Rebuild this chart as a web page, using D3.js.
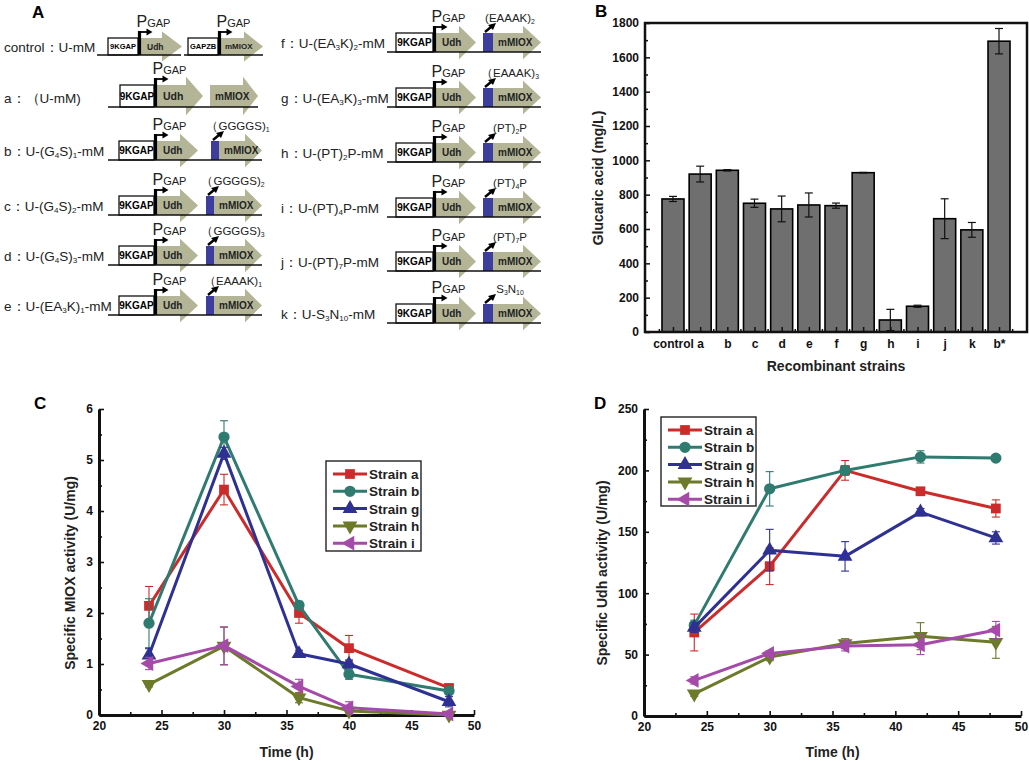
<!DOCTYPE html>
<html>
<head>
<meta charset="utf-8">
<script src="https://d3js.org/d3.v7.min.js"></script>
<style>
  body { margin: 0; background: #fff; }
  svg { font-family: "Liberation Sans", Arial, sans-serif; }
  .tick text { font-weight: bold; font-size: 12px; fill: #111; }
  .axis path, .axis line { stroke: #111; }
</style>
</head>
<body>
<svg id="fig" width="1029" height="761"></svg>
<script>
// ---------- data ----------
// panel A: construct names (_{..} = subscript)
const leftLabels = ['control\uFF1AU-mM', 'a\uFF1A\uFF08U-mM)', 'b\uFF1AU-(G_{4}S)_{1}-mM',
  'c\uFF1AU-(G_{4}S)_{2}-mM', 'd\uFF1AU-(G_{4}S)_{3}-mM', 'e\uFF1AU-(EA_{3}K)_{1}-mM'];
const rightLabels = ['f\uFF1AU-(EA_{3}K)_{2}-mM', 'g\uFF1AU-(EA_{3}K)_{3}-mM', 'h\uFF1AU-(PT)_{2}P-mM',
  'i\uFF1AU-(PT)_{4}P-mM', 'j\uFF1AU-(PT)_{7}P-mM', 'k\uFF1AU-S_{3}N_{10}-mM'];
const leftLinkers = [null, null, '\uFF08GGGGS)_{1}', '\uFF08GGGGS)_{2}', '\uFF08GGGGS)_{3}', '\uFF08EAAAK)_{1}'];
const rightLinkers = ['(EAAAK)_{2}', '\uFF08EAAAK)_{3}', '(PT)_{2}P', '(PT)_{4}P', '(PT)_{7}P', 'S_{3}N_{10}'];

// panel B
const strains = ['control', 'a', 'b', 'c', 'd', 'e', 'f', 'g', 'h', 'i', 'j', 'k', 'b*'];
const glucaric = [775, 920, 942, 750, 717, 740, 736, 928, 70, 150, 660, 595, 1694];
const glucaricErr = [15, 46, 4, 24, 75, 70, 15, 2, 62, 6, 116, 43, 74];

// panel C (MIOX activity)
const timeC = [24, 30, 36, 40, 48];
const mioxA = [2.14, 4.42, 2.0, 1.31, 0.53];
const mioxAErr = [0.38, 0.3, 0.2, 0.25, 0.05];
const mioxB = [1.8, 5.45, 2.15, 0.8, 0.47];
const mioxBErr = [0.48, 0.32, 0.08, 0.1, 0.05];
const mioxG = [1.17, 5.13, 1.2, 1.0, 0.26];
const mioxGErr = [0.13, 0.12, 0.07, 0.08, 0.1];
const mioxH = [0.6, 1.35, 0.34, 0.08, 0.0];
const mioxHErr = [0.05, 0.37, 0.1, 0.03, 0.02];
const mioxI = [1.01, 1.36, 0.56, 0.14, 0.02];
const mioxIErr = [0.12, 0.37, 0.14, 0.12, 0.03];

// panel D (Udh activity)
const timeD = [24, 30, 36, 42, 48];
const udhA = [68, 122, 200, 183, 169];
const udhAErr = [15, 15, 8, 2, 7];
const udhB = [74, 185, 200, 211, 210];
const udhBErr = [4, 14, 4, 5, 2];
const udhG = [72, 135, 130, 166, 145];
const udhGErr = [4, 17, 12, 3, 5];
const udhH = [18, 48, 59, 65, 60];
const udhHErr = [2, 3, 4, 11, 13];
const udhI = [29, 51, 57, 58, 70];
const udhIErr = [3, 2, 4, 8, 7];

const seriesNames = ['Strain a', 'Strain b', 'Strain g', 'Strain h', 'Strain i'];
const seriesColors = ['#cc2b2b', '#2f7b70', '#2e3192', '#6d7a2a', '#a64aa9'];

// ---------- helpers ----------
const svg = d3.select('#fig');
svg.append('rect').attr('width', 1029).attr('height', 761).attr('fill', '#fff');
const fmt = d3.format('d');

function rich(sel, str, size) {
  const parts = str.split(/(_\{[^}]*\})/).filter(s => s.length);
  let shift = 0;
  parts.forEach(p => {
    const isSub = p.startsWith('_{');
    const t = sel.append('tspan').text(isSub ? p.slice(2, -1) : p);
    const want = isSub ? size * 0.16 : 0;
    if (want !== shift) t.attr('dy', want - shift);
    t.attr('font-size', isSub ? size * 0.6 : size);
    shift = want;
  });
  return sel;
}

function panelLetter(x, y, s) {
  svg.append('text').attr('x', x).attr('y', y).attr('font-size', 17)
    .attr('font-weight', 'bold').text(s);
}

// ---------- panel A ----------
const gA = svg.append('g');
const geneFill = '#b4b596';
const linkerFill = '#3d3d9e';

function geneArrow(x0, bodyEnd, tip, y, bh, label, fs) {
  const top = y - bh, mid = y - bh / 2, hh = bh * 0.88;
  gA.append('path')
    .attr('d', `M${x0},${top}L${bodyEnd},${top}L${bodyEnd},${mid - hh}L${tip},${mid}` +
      `L${bodyEnd},${mid + hh}L${bodyEnd},${y}L${x0},${y}Z`)
    .attr('fill', geneFill);
  gA.append('text').attr('x', x0 + (label === 'Udh' ? 7 : 5)).attr('y', mid + fs * 0.36)
    .attr('font-size', fs).attr('font-weight', 'bold').attr('fill', '#222').text(label);
}

function promoterBox(x0, x1, y, bh, label, fs) {
  gA.append('rect').attr('x', x0).attr('y', y - bh).attr('width', x1 - x0).attr('height', bh)
    .attr('fill', '#fff').attr('stroke', '#111').attr('stroke-width', 1.3);
  gA.append('text').attr('x', (x0 + x1) / 2).attr('y', y - bh / 2 + fs * 0.36)
    .attr('text-anchor', 'middle').attr('font-size', fs).attr('font-weight', 'bold').text(label);
  // promoter bent arrow
  const px = x1 + 1.5, h = bh + 7;
  gA.append('line').attr('x1', px).attr('x2', px).attr('y1', y).attr('y2', y - h)
    .attr('stroke', '#000').attr('stroke-width', 3.2);
  gA.append('line').attr('x1', px).attr('x2', px + 8).attr('y1', y - h + 1).attr('y2', y - h + 1)
    .attr('stroke', '#000').attr('stroke-width', 1.8);
  gA.append('path').attr('d', `M${px + 7},${y - h - 2.5}L${px + 13},${y - h + 1}L${px + 7},${y - h + 4.5}Z`)
    .attr('fill', '#000');
  const t = gA.append('text').attr('x', px - 3).attr('y', y - bh - 11).attr('fill', '#222');
  t.append('tspan').attr('font-size', 16).text('P');
  t.append('tspan').attr('font-size', 11).text('GAP');
}

function linker(x0, x1, y, bh, label, cx) {
  gA.append('rect').attr('x', x0).attr('y', y - bh).attr('width', x1 - x0).attr('height', bh)
    .attr('fill', linkerFill);
  gA.append('line').attr('x1', x0 + 2).attr('y1', y - bh - 1).attr('x2', x0 + 8).attr('y2', y - bh - 6)
    .attr('stroke', '#000').attr('stroke-width', 2.4);
  gA.append('path').attr('d', `M${x0 + 13},${y - bh - 10}L${x0 + 5},${y - bh - 8}L${x0 + 10},${y - bh - 3}Z`)
    .attr('fill', '#000');
  rich(gA.append('text').attr('x', cx).attr('y', y - bh - 11).attr('text-anchor', 'middle')
    .attr('fill', '#222'), label, 11.5);
}

function baseLine(x0, x1, y) {
  gA.append('line').attr('x1', x0).attr('x2', x1).attr('y1', y).attr('y2', y)
    .attr('stroke', '#111').attr('stroke-width', 1.5);
}

function rowLabel(x, y, str) {
  rich(gA.append('text').attr('x', x).attr('y', y).attr('fill', '#222'), str, 13.5);
}

const leftY = [55, 107, 160, 215, 265, 315];
const rightY = [52, 107, 162, 217, 271, 323];

// control row
{
  const y = leftY[0];
  rowLabel(4, y - 3, leftLabels[0]);
  geneArrow(140, 162, 182, y, 17, 'Udh', 8.5);
  promoterBox(108, 138, y, 17, '9KGAP', 7.5);
  geneArrow(220, 244, 263, y, 17, 'mMIOX', 8);
  promoterBox(188, 218, y, 17, 'GAPZB', 7.5);
  baseLine(97, 181, y);
  baseLine(184, 263, y);
}
// row a
{
  const y = leftY[1];
  rowLabel(4, y - 4, leftLabels[1]);
  geneArrow(156, 186, 203, y, 22, 'Udh', 10.5);
  promoterBox(120, 154, y, 22, '9KGAP', 10);
  geneArrow(210, 243, 258, y, 22, 'mMIOX', 10);
  baseLine(108, 258, y);
}
// rows b..e
for (let r = 2; r < 6; r++) {
  const y = leftY[r];
  const lx = r === 2 ? 211 : 206;
  rowLabel(4, y - 4, leftLabels[r]);
  geneArrow(156, 180, 198, y, 19, 'Udh', 10);
  promoterBox(119, 154, y, 19, '9KGAP', 10);
  geneArrow(lx + 8, 245, 262, y, 19, 'mMIOX', 10);
  linker(lx, lx + 8, y, 19, leftLinkers[r], lx + 27);
  baseLine(108, 262, y);
}
// rows f..k
for (let r = 0; r < 6; r++) {
  const y = rightY[r];
  rowLabel(281, y - 4, rightLabels[r]);
  geneArrow(435, 459, 476, y, 19, 'Udh', 10);
  promoterBox(396, 433, y, 19, '9KGAP', 10);
  geneArrow(493, 523, 541, y, 19, 'mMIOX', 10);
  linker(483, 493, y, 19, rightLinkers[r], 510);
  baseLine(387, 541, y);
}
panelLetter(32, 18, 'A');

// ---------- panel B ----------
{
  const g = svg.append('g');
  const x = d3.scalePoint().domain(strains).range([645, 1027]).padding(1.03);
  const y = d3.scaleLinear().domain([0, 1800]).range([332, 23]);
  const bw = 22;

  g.selectAll('rect.bar').data(strains).join('rect').attr('class', 'bar')
    .attr('x', d => x(d) - bw / 2).attr('width', bw)
    .attr('y', (d, i) => y(glucaric[i])).attr('height', (d, i) => y(0) - y(glucaric[i]))
    .attr('fill', '#6f6f6f').attr('stroke', '#000').attr('stroke-width', 1.6);

  const eb = g.selectAll('g.eb').data(strains).join('g').attr('class', 'eb')
    .attr('stroke', '#111').attr('stroke-width', 1.2);
  eb.append('line').attr('x1', d => x(d)).attr('x2', d => x(d))
    .attr('y1', (d, i) => y(glucaric[i] - glucaricErr[i])).attr('y2', (d, i) => y(glucaric[i] + glucaricErr[i]));
  eb.append('line').attr('x1', d => x(d) - 4).attr('x2', d => x(d) + 4)
    .attr('y1', (d, i) => y(glucaric[i] + glucaricErr[i])).attr('y2', (d, i) => y(glucaric[i] + glucaricErr[i]));
  eb.append('line').attr('x1', d => x(d) - 4).attr('x2', d => x(d) + 4)
    .attr('y1', (d, i) => y(glucaric[i] - glucaricErr[i])).attr('y2', (d, i) => y(glucaric[i] - glucaricErr[i]));

  g.append('g').attr('class', 'axis').attr('transform', 'translate(0,332)')
    .call(d3.axisBottom(x).tickSizeInner(-5).tickSizeOuter(0).tickPadding(7))
    .call(a => a.select('.domain').remove());
  // minor ticks between bars
  g.selectAll('line.mx').data(strains.concat(['end'])).join('line').attr('class', 'mx')
    .attr('x1', (d, i) => x(strains[Math.min(i, strains.length - 1)]) + (i < strains.length ? -1 : 1) * x.step() / 2)
    .attr('x2', (d, i) => x(strains[Math.min(i, strains.length - 1)]) + (i < strains.length ? -1 : 1) * x.step() / 2)
    .attr('y1', 332).attr('y2', 329).attr('stroke', '#111').attr('stroke-width', 1.5);

  g.append('g').attr('class', 'axis').attr('transform', 'translate(645,0)')
    .call(d3.axisLeft(y).tickValues(d3.range(0, 1801, 200)).tickFormat(fmt).tickSizeInner(-5).tickSizeOuter(0).tickPadding(6))
    .call(a => a.select('.domain').remove());
  g.append('g').attr('class', 'axis').attr('transform', 'translate(645,0)')
    .call(d3.axisLeft(y).tickValues(d3.range(100, 1800, 200)).tickSizeInner(-3).tickSizeOuter(0).tickFormat(''))
    .call(a => a.select('.domain').remove());
  g.selectAll('.axis line').attr('stroke-width', 1.5);

  g.append('rect').attr('x', 645).attr('y', 23).attr('width', 382).attr('height', 309)
    .attr('fill', 'none').attr('stroke', '#111').attr('stroke-width', 2.5);

  g.append('text').attr('transform', 'translate(603,178) rotate(-90)').attr('text-anchor', 'middle')
    .attr('font-size', 14).attr('font-weight', 'bold').attr('fill', '#222').text('Glucaric acid (mg/L)');
  g.append('text').attr('x', 836).attr('y', 371).attr('text-anchor', 'middle')
    .attr('font-size', 14).attr('font-weight', 'bold').attr('fill', '#222').text('Recombinant strains');
  panelLetter(595, 17, 'B');
}

// ---------- panels C and D ----------
const symbols = [
  { type: d3.symbolSquare, size: 95, rot: 0 },
  { type: d3.symbolCircle, size: 100, rot: 0 },
  { type: d3.symbolTriangle, size: 95, rot: 0 },
  { type: d3.symbolTriangle, size: 95, rot: 180 },
  { type: d3.symbolTriangle, size: 95, rot: -90 }
];

function linePanel(cfg) {
  const g = svg.append('g');
  const x = d3.scaleLinear().domain([20, 50]).range(cfg.xr);
  const y = d3.scaleLinear().domain([0, cfg.ymax]).range(cfg.yr);

  // axes
  g.append('g').attr('class', 'axis').attr('transform', `translate(0,${cfg.yr[0]})`)
    .call(d3.axisBottom(x).tickValues(d3.range(20, 51, 5)).tickFormat(fmt).tickSizeInner(-5).tickSizeOuter(0).tickPadding(6));
  g.append('g').attr('class', 'axis').attr('transform', `translate(0,${cfg.yr[0]})`)
    .call(d3.axisBottom(x).tickValues(d3.range(22.5, 50, 5)).tickSizeInner(-3).tickSizeOuter(0).tickFormat(''))
    .call(a => a.select('.domain').remove());
  g.append('g').attr('class', 'axis').attr('transform', `translate(${cfg.xr[0]},0)`)
    .call(d3.axisLeft(y).tickValues(d3.range(0, cfg.ymax + 0.001, cfg.ystep)).tickFormat(fmt).tickSizeInner(-5).tickSizeOuter(0).tickPadding(6));
  g.append('g').attr('class', 'axis').attr('transform', `translate(${cfg.xr[0]},0)`)
    .call(d3.axisLeft(y).tickValues(d3.range(cfg.ystep / 2, cfg.ymax, cfg.ystep)).tickSizeInner(-3).tickSizeOuter(0).tickFormat(''))
    .call(a => a.select('.domain').remove());
  g.selectAll('.axis .domain').attr('stroke-width', 3);
  g.selectAll('.axis line').attr('stroke-width', 1.6);

  const line = d3.line().x(d => x(d[0])).y(d => y(d[1]));
  cfg.series.forEach((s, k) => {
    const pts = cfg.time.map((t, i) => [t, s.v[i], s.e[i]]);
    const col = seriesColors[k];
    const eg = g.append('g').attr('stroke', col).attr('stroke-width', 1.1);
    pts.forEach(p => {
      if (p[2] <= 0) return;
      const cx = x(p[0]), y1 = y(Math.max(0, p[1] - p[2])), y2 = y(p[1] + p[2]);
      eg.append('line').attr('x1', cx).attr('x2', cx).attr('y1', y1).attr('y2', y2);
      eg.append('line').attr('x1', cx - 4).attr('x2', cx + 4).attr('y1', y2).attr('y2', y2);
      eg.append('line').attr('x1', cx - 4).attr('x2', cx + 4).attr('y1', y1).attr('y2', y1);
    });
    g.append('path').datum(pts).attr('d', line).attr('fill', 'none')
      .attr('stroke', col).attr('stroke-width', 3).attr('stroke-linejoin', 'round');
    const sym = symbols[k];
    g.selectAll(null).data(pts).join('path')
      .attr('d', d3.symbol().type(sym.type).size(sym.size))
      .attr('transform', d => `translate(${x(d[0])},${y(d[1])}) rotate(${sym.rot})`)
      .attr('fill', col);
  });

  // legend
  const L = cfg.legend;
  const lg = g.append('g');
  lg.append('rect').attr('x', L.x).attr('y', L.y).attr('width', L.w).attr('height', L.h)
    .attr('fill', '#fff').attr('stroke', '#222').attr('stroke-width', 1.4);
  seriesNames.forEach((n, k) => {
    const ry = L.y + 13 + k * 17.3;
    lg.append('line').attr('x1', L.x + 7).attr('x2', L.x + 41).attr('y1', ry).attr('y2', ry)
      .attr('stroke', seriesColors[k]).attr('stroke-width', 3);
    lg.append('path').attr('d', d3.symbol().type(symbols[k].type).size(symbols[k].size))
      .attr('transform', `translate(${L.x + 24},${ry}) rotate(${symbols[k].rot})`).attr('fill', seriesColors[k]);
    lg.append('text').attr('x', L.x + 43).attr('y', ry + 5).attr('font-size', 13.5)
      .attr('font-weight', 'bold').attr('fill', '#222').text(n);
  });

  g.append('text').attr('transform', `translate(${cfg.ylx},${cfg.yly}) rotate(-90)`).attr('text-anchor', 'middle')
    .attr('font-size', 14).attr('font-weight', 'bold').attr('fill', '#222').text(cfg.ylabel);
  g.append('text').attr('x', (cfg.xr[0] + cfg.xr[1]) / 2).attr('y', 757).attr('text-anchor', 'middle')
    .attr('font-size', 14).attr('font-weight', 'bold').attr('fill', '#222').text('Time (h)');
}

linePanel({
  xr: [99, 474], yr: [715, 409], ymax: 6, ystep: 1, time: timeC,
  series: [
    { v: mioxA, e: mioxAErr }, { v: mioxB, e: mioxBErr }, { v: mioxG, e: mioxGErr },
    { v: mioxH, e: mioxHErr }, { v: mioxI, e: mioxIErr }
  ],
  legend: { x: 326, y: 461, w: 95, h: 90 },
  ylabel: 'Specific MIOX activity (U/mg)', ylx: 75, yly: 573
});
panelLetter(34, 409, 'C');

linePanel({
  xr: [644, 1021], yr: [716, 409], ymax: 250, ystep: 50, time: timeD,
  series: [
    { v: udhA, e: udhAErr }, { v: udhB, e: udhBErr }, { v: udhG, e: udhGErr },
    { v: udhH, e: udhHErr }, { v: udhI, e: udhIErr }
  ],
  legend: { x: 661, y: 417, w: 95, h: 89 },
  ylabel: 'Specific Udh activity (U/mg)', ylx: 607, yly: 573
});
panelLetter(594, 409, 'D');
</script>
</body>
</html>
